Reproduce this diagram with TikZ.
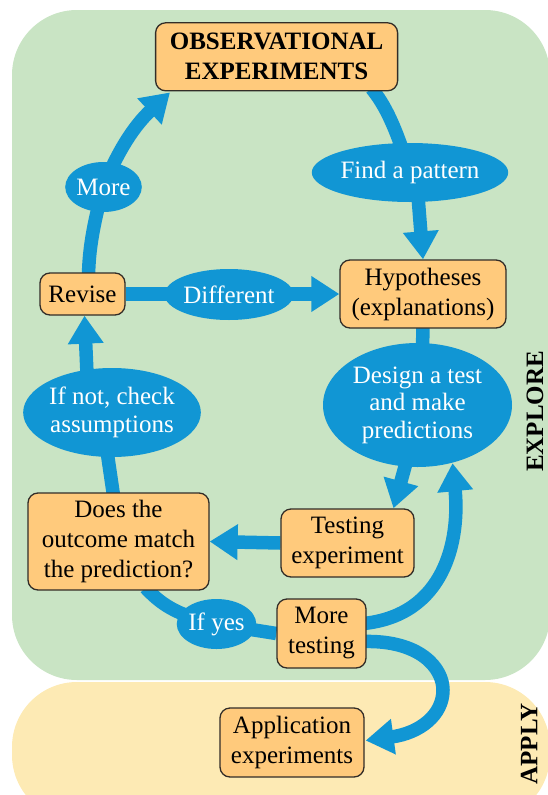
\documentclass[tikz,border=0pt]{standalone}
\usepackage{fontspec}
\setmainfont{Liberation Serif}
\usetikzlibrary{shapes.geometric,arrows.meta,calc}
\pgfdeclarelayer{back}
\pgfdeclarelayer{mid}
\pgfsetlayers{back,mid,main}
\definecolor{greenbg}{RGB}{201,228,196}
\definecolor{yellowbg}{RGB}{253,234,180}
\definecolor{boxfill}{RGB}{255,202,124}
\definecolor{boxline}{RGB}{50,45,40}
\definecolor{flowblue}{RGB}{17,150,212}
\begin{document}
\begin{tikzpicture}[x=1pt,y=-1pt,
  box/.style={draw=boxline, fill=boxfill, line width=1.3pt, rounded corners=10pt,
    align=center, inner sep=0pt, font=\fontsize{25}{30}\selectfont},
  bub/.style={ellipse, fill=flowblue, text=white, align=center, inner sep=0pt,
    font=\fontsize{25}{27.5}\selectfont},
  flow/.style={draw=flowblue, line width=13.5pt},
  tip/.style={-{Triangle[width=34pt,length=28pt]}},
  side/.style={font=\bfseries\fontsize{25}{30}\selectfont, rotate=90, inner sep=0pt}]

\useasboundingbox (0,0) rectangle (548,795);

% background regions
\begin{pgfonlayer}{back}
  \begin{scope}
    \clip (0,0) rectangle (548,795);
    \fill[greenbg, rounded corners=65pt] (12,10) rectangle (550,680);
    \fill[yellowbg, rounded corners=65pt] (12,682) rectangle (550,820);
  \end{scope}
\end{pgfonlayer}

% boxes
\node[box, minimum width=242pt, minimum height=68pt, font=\bfseries\fontsize{25}{30}\selectfont]
  (obs) at (276.6,56.8) {OBSERVATIONAL\\EXPERIMENTS};
\node[box, minimum width=166pt, minimum height=68pt] (hyp) at (423,294) {Hypotheses\\(explanations)};
\node[box, minimum width=85pt, minimum height=42pt] (rev) at (82.5,294) {Revise};
\node[box, minimum width=181pt, minimum height=97pt] (does) at (118.5,541.5)
  {Does the\\outcome match\\the prediction?};
\node[box, minimum width=133pt, minimum height=68pt] (test) at (347.5,543) {Testing\\experiment};
\node[box, minimum width=89pt, minimum height=69pt] (moretest) at (321.5,633.5) {More\\testing};
\node[box, minimum width=144pt, minimum height=69pt] (app) at (292,742.5) {Application\\experiments};

% bubbles
\node[bub, minimum width=75pt, minimum height=50pt] (more) at (103.5,187) {More};
\node[bub, minimum width=160pt, minimum height=59pt] (find) at (410,172.5) {Find a pattern};
\node[bub, minimum width=104pt, minimum height=51pt] (diff) at (229,294.5) {Different};
\node[bub, minimum width=164pt, minimum height=89pt] (ifnot) at (112,412.5) {If not, check\\assumptions};
\node[bub, minimum width=189pt, minimum height=124pt] (design) at (417.5,405)
  {Design a test\\and make\\predictions};
\node[bub, minimum width=75pt, minimum height=50pt] (ifyes) at (216.5,624) {If yes};

% side labels
\node[side] (explore) at (535,411.5) {EXPLORE};
\node[side] (apply) at (529,744) {APPLY};

% connectors
\begin{pgfonlayer}{mid}
  \draw[flow] ($(obs.south)+(95,-3)$) .. controls (385,105) and (395,125) .. (find.center);
  \draw[flow,tip] ($(find.south)+(8,-6)$) -- (hyp.north);
  \draw[flow] ($(rev.north)+(6,3)$) .. controls (89,250) and (93,225) .. (more.center);
  \draw[flow,tip] (more.center) .. controls (118,150) and (135,125) .. ($(obs.south west)+(15,1)$);
  \draw[flow,tip] (rev.east) -- (hyp.west);
  \draw[flow] ($(hyp.south)+(0,-2)$) -- ($(design.north)+(5,6)$);
  \draw[flow,tip] ($(design.south)+(-11,-6)$) -- ($(test.north)+(46,0)$);
  \draw[flow,tip] (test.west) -- (does.east);
  \draw[flow] ($(does.north)+(-5,3)$) -- ($(ifnot.south)+(-5,-6)$);
  \draw[flow,tip] ($(ifnot.north)+(-25,6)$) -- ($(rev.south)+(2,0)$);
  \draw[flow] ($(does.south)+(27,-3)$) .. controls (160,603) and (175,615) .. (ifyes.center);
  \draw[flow] (ifyes.center) -- (moretest.west);
  \draw[flow,tip] ($(moretest.east)+(-3,-10)$) .. controls (445,615) and (460,540) .. ($(design.south)+(35,-4)$);
  \draw[flow,tip] ($(moretest.east)+(-3,8)$) .. controls (420,640) and (443,668) .. (443,690)
    .. controls (443,715) and (420,733) .. ($(app.east)+(1,-2)$);
\end{pgfonlayer}
\end{tikzpicture}
\end{document}
